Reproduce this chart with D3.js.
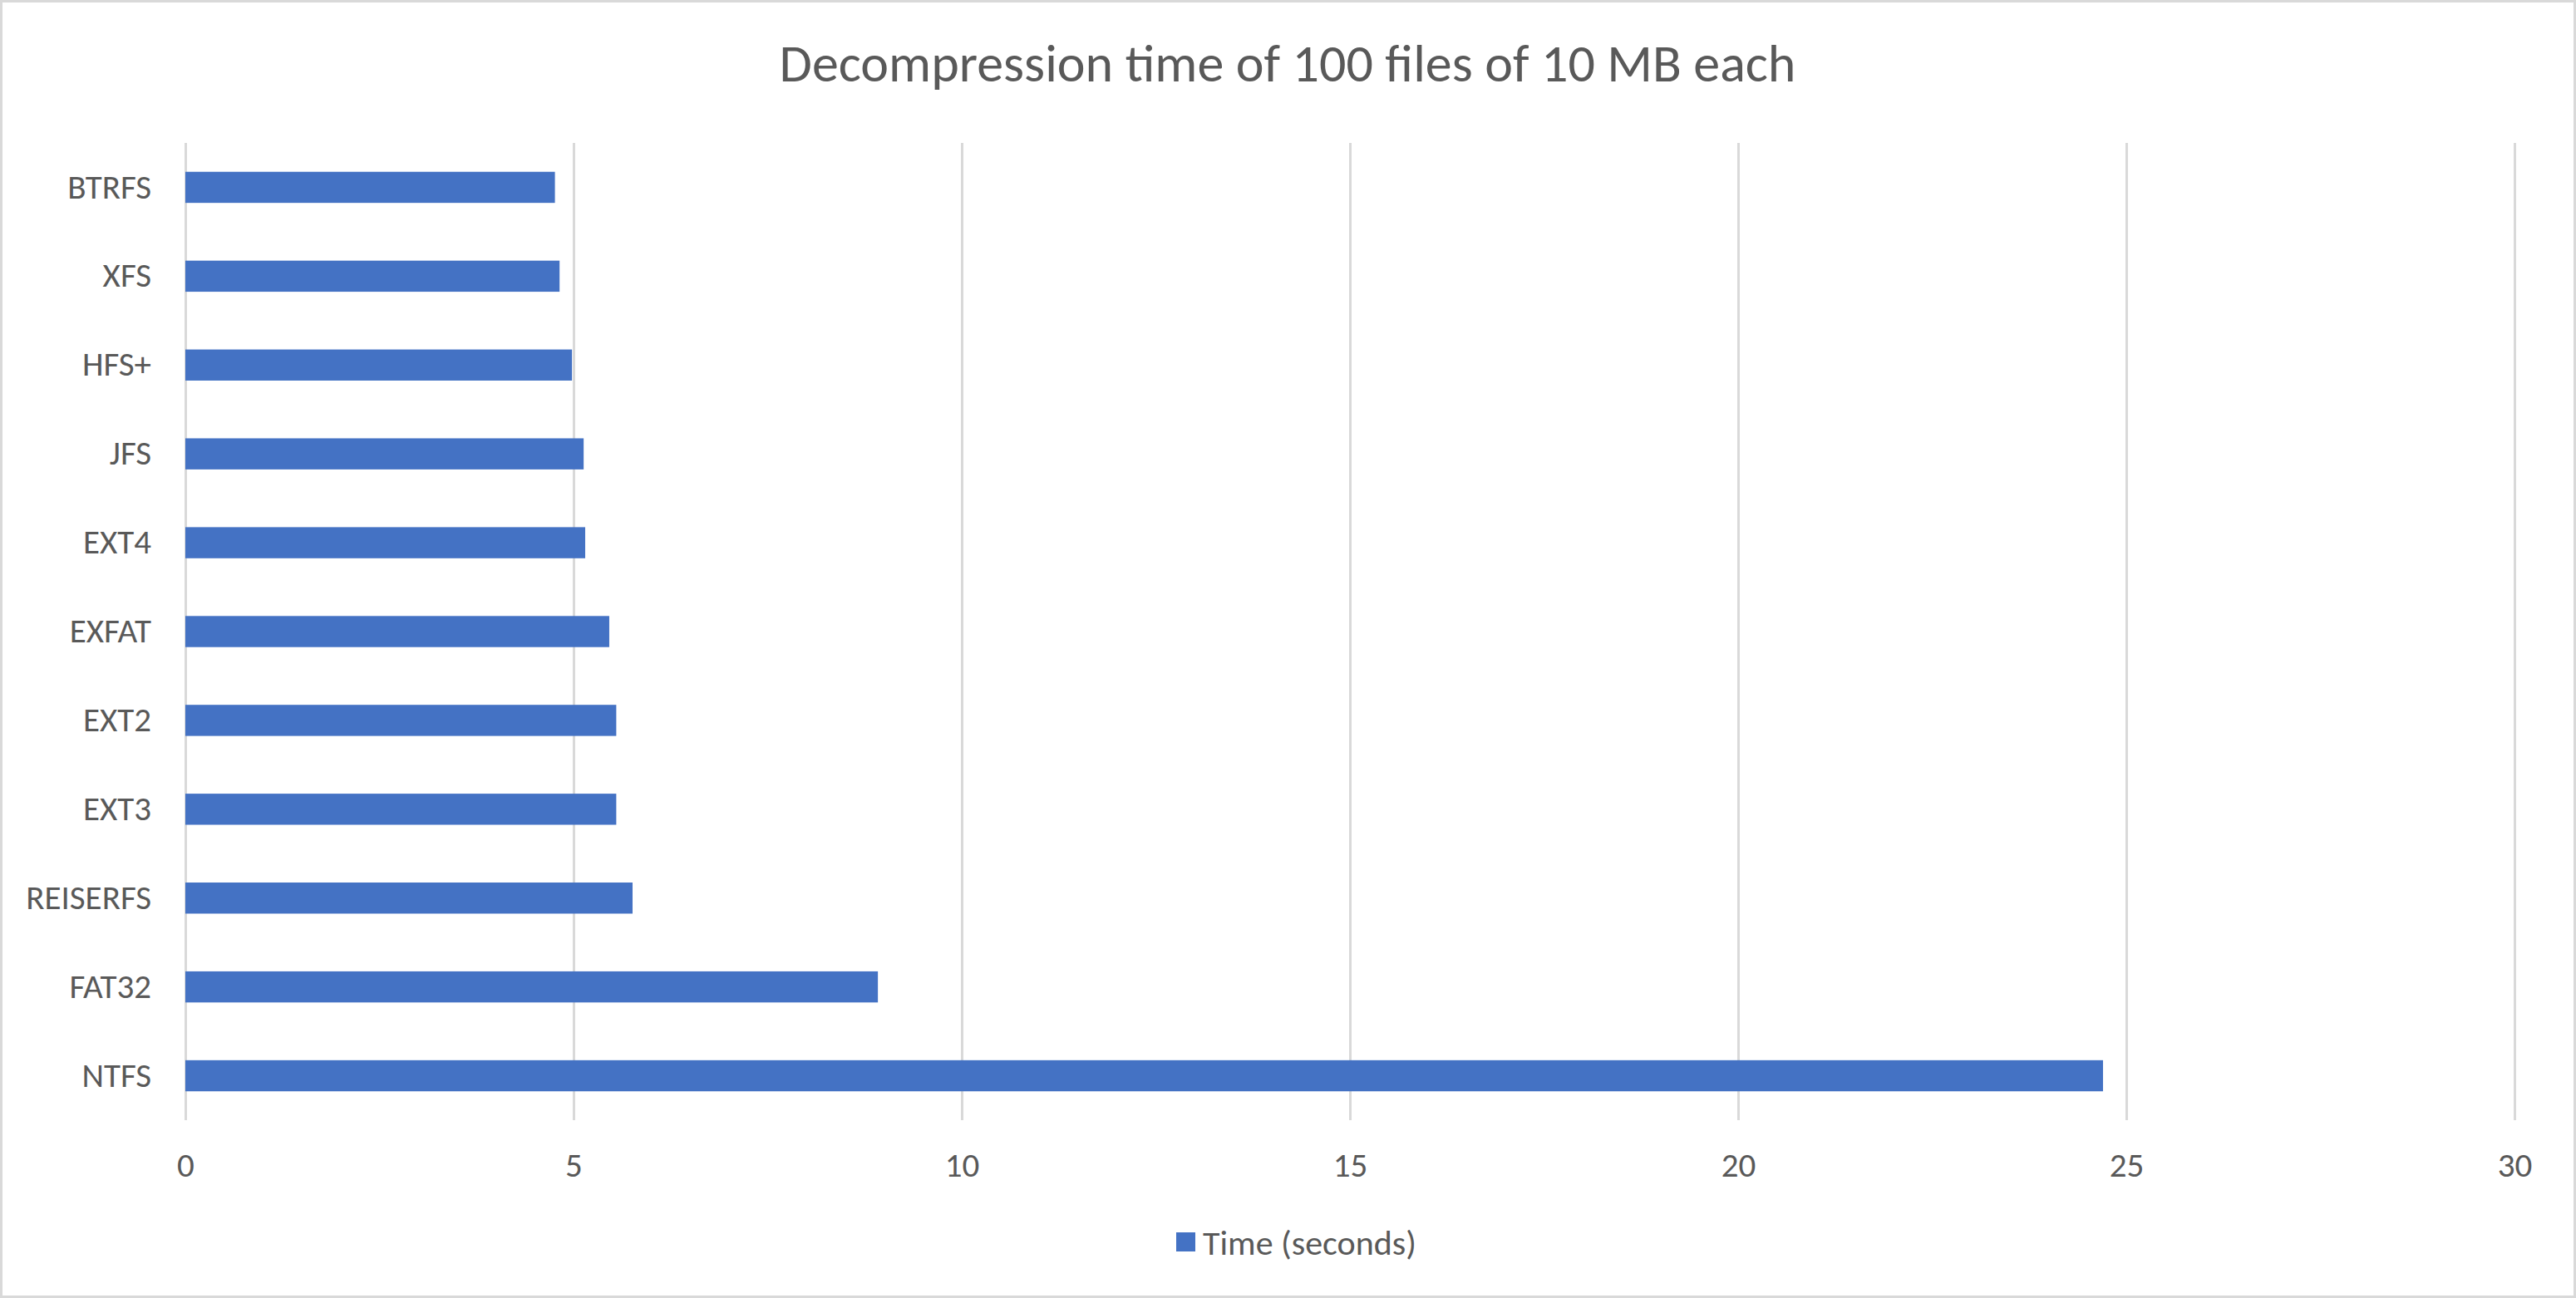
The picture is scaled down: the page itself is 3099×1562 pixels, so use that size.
<!DOCTYPE html>
<html>
<head>
<meta charset="utf-8">
<script src="https://cdn.jsdelivr.net/npm/d3@7"></script>
<style>
html, body { margin: 0; padding: 0; background: #fff; }
svg { display: block; }
</style>
</head>
<body>
<script>
const categories = ["BTRFS", "XFS", "HFS+", "JFS", "EXT4", "EXFAT", "EXT2", "EXT3", "REISERFS", "FAT32", "NTFS"];
const timeSeconds = [4.76, 4.82, 4.98, 5.13, 5.15, 5.46, 5.55, 5.55, 5.76, 8.92, 24.7];
const xTicks = [0, 5, 10, 15, 20, 25, 30];
const seriesName = "Time (seconds)";
const titleText = "Decompression time of 100 files of 10 MB each";

const W = 3099, H = 1562;
const plot = { left: 223, right: 3025, top: 172, bottom: 1348 };
const FONT = "'Carlito', 'Liberation Sans Narrow', 'Liberation Sans', sans-serif";
const TEXT = "#595959", GRID = "#D9D9D9", BAR = "#4472C4";

const svg = d3.select("body").append("svg").attr("width", W).attr("height", H);
svg.append("rect").attr("x", 0).attr("y", 0).attr("width", W).attr("height", H).attr("fill", "#fff");
svg.append("rect").attr("x", 1.5).attr("y", 1.5).attr("width", W - 3).attr("height", H - 3)
  .attr("fill", "none").attr("stroke", GRID).attr("stroke-width", 3);

const x = d3.scaleLinear().domain([0, 30]).range([plot.left, plot.right]);
const y = d3.scaleBand().domain(categories).range([plot.top, plot.bottom]).paddingInner(0.65).paddingOuter(0.325);

// gridlines
const grid = svg.append("g").attr("transform", `translate(0,${plot.bottom})`)
  .call(d3.axisBottom(x).tickValues(xTicks).tickSize(-(plot.bottom - plot.top)).tickFormat(""));
grid.select(".domain").remove();
grid.selectAll(".tick line").attr("stroke", GRID).attr("stroke-width", 3);

// tick labels
const xa = svg.append("g").attr("transform", `translate(0,${plot.bottom})`)
  .call(d3.axisBottom(x).tickValues(xTicks).tickSize(0).tickPadding(0).tickFormat(d3.format("d")));
xa.select(".domain").remove();
xa.selectAll(".tick text").attr("y", 68).attr("dy", 0).attr("fill", TEXT)
  .style("font-family", FONT).style("font-size", "41px");

// category labels
const ya = svg.append("g").attr("transform", `translate(${plot.left},0)`)
  .call(d3.axisLeft(y).tickSize(0).tickPadding(41));
ya.select(".domain").remove();
ya.selectAll(".tick text").attr("fill", TEXT).style("font-family", FONT).style("font-size", "41px");

// bars
svg.append("g").selectAll("rect").data(categories).join("rect")
  .attr("x", x(0))
  .attr("y", d => y(d))
  .attr("width", (d, i) => x(timeSeconds[i]) - x(0))
  .attr("height", y.bandwidth())
  .attr("fill", BAR);

// title
svg.append("text").attr("x", 1549).attr("y", 98).attr("text-anchor", "middle")
  .attr("fill", TEXT).style("font-family", FONT).style("font-size", "64px").text(titleText);

// legend
const lg = svg.append("g");
lg.append("rect").attr("x", 1415).attr("y", 1483).attr("width", 23).attr("height", 23).attr("fill", BAR);
lg.append("text").attr("x", 1447).attr("y", 1495).attr("dy", "0.35em").attr("fill", TEXT)
  .style("font-family", FONT).style("font-size", "42px").text(seriesName);
</script>
</body>
</html>
